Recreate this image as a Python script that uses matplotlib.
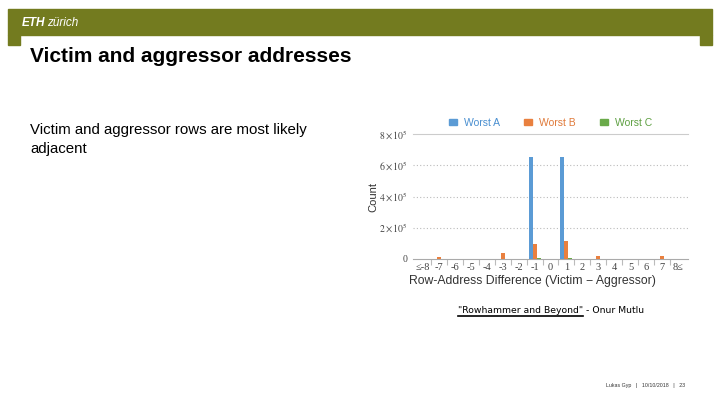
import matplotlib
matplotlib.use('Agg')
import matplotlib.pyplot as plt
from matplotlib.patches import Rectangle, Patch
import numpy as np

# ── Chart data ────────────────────────────────
CATEGORIES = ['≤-8', '-7', '-6', '-5', '-4', '-3', '-2', '-1', '0',
              '1', '2', '3', '4', '5', '6', '7', '8≤']
WORST_A = [0, 0, 0, 0, 0, 0, 0, 650000, 0, 650000, 0, 0, 0, 0, 0, 0, 0]
WORST_B = [0, 12000, 0, 0, 0, 36000, 0, 96000, 0, 116000, 0, 20000, 0, 0, 0, 17000, 0]
WORST_C = [0, 0, 0, 0, 0, 0, 0, 8000, 0, 8000, 0, 0, 0, 0, 0, 0, 0]
SERIES = ['Worst A', 'Worst B', 'Worst C']
Y_TICKS = [0, 200000, 400000, 600000, 800000]
Y_TICK_LABELS = ['0', r'$2\times10^5$', r'$4\times10^5$', r'$6\times10^5$', r'$8\times10^5$']

COLORS = ['#5b9bd5', '#e9803f', '#6aaa4a']
TEXT_COLORS = ['#4a8fd0', '#e07a3a', '#5fa043']
ETH_GREEN = '#737b1f'

plt.rcParams['mathtext.fontset'] = 'stix'
plt.rcParams['font.family'] = ['Liberation Sans', 'DejaVu Sans']

W, H = 720, 405
fig = plt.figure(figsize=(7.2, 4.05), dpi=100)

def px(x, y):
    return x / W, 1 - y / H

# ── Slide frame ────────────────────────────────
fig.patches.append(Rectangle(px(8, 35), 704 / W, 26 / H, transform=fig.transFigure,
                             color=ETH_GREEN, zorder=0))
fig.patches.append(Rectangle(px(8, 45), 12 / W, 10 / H, transform=fig.transFigure,
                             color=ETH_GREEN, zorder=0))
fig.patches.append(Rectangle(px(700, 45), 12 / W, 10 / H, transform=fig.transFigure,
                             color=ETH_GREEN, zorder=0))
eth = fig.text(*px(22, 23), 'ETH', color='white', fontsize=8.5, fontweight='bold',
               fontstyle='italic', va='center', ha='left')
fig.canvas.draw()
eb = eth.get_window_extent()
fig.text((eb.x1 + 1.5) / W, 1 - 23 / H, 'zürich', color='white', fontsize=8.5,
         fontstyle='italic', va='center', ha='left')

fig.text(*px(30, 62), 'Victim and aggressor addresses', fontsize=15, fontweight='bold',
         va='baseline', ha='left', color='black')
fig.text(*px(30, 134), 'Victim and aggressor rows are most likely', fontsize=10.8,
         va='baseline', ha='left', color='black')
fig.text(*px(30, 153), 'adjacent', fontsize=10.8, va='baseline', ha='left', color='black')

# ── Bar chart ────────────────────────────────
ax = fig.add_axes([413 / W, 1 - 259 / H, 275 / W, 125 / H])
x = np.arange(len(CATEGORIES))
width = 0.25
for i, (vals, col) in enumerate(zip([WORST_A, WORST_B, WORST_C], COLORS)):
    ax.bar(x + (i - 1) * width, vals, width, color=col, zorder=3)

ax.set_xlim(-0.6, len(CATEGORIES) - 0.4)
ax.set_ylim(0, 800000)
ax.set_yticks(Y_TICKS)
ax.set_yticklabels(Y_TICK_LABELS, fontsize=7, color='#444444',
                   family=['Liberation Serif', 'DejaVu Serif'])
ax.set_xticks(x)
ax.set_xticklabels(CATEGORIES, fontsize=7.5, color='#444444',
                   family=['Liberation Serif', 'DejaVu Serif'])
ax.set_xticks(x[:-1] + 0.5, minor=True)
ax.tick_params(axis='x', which='major', length=0, pad=3)
ax.tick_params(axis='x', which='minor', length=4, color='#bbbbbb', width=0.8)
ax.tick_params(axis='y', length=0, pad=4)

for yv in Y_TICKS[1:-1]:
    ax.axhline(yv, color='#bbbbbb', lw=0.8, ls=(0, (1, 2)), zorder=1)
for s in ['left', 'right']:
    ax.spines[s].set_visible(False)
ax.spines['top'].set_color('#cccccc')
ax.spines['bottom'].set_color('#aaaaaa')
ax.spines['top'].set_linewidth(0.8)
ax.spines['bottom'].set_linewidth(0.8)

fig.text(*px(373, 197), 'Count', rotation=90, fontsize=8, color='#333333',
         ha='center', va='center')
fig.text(*px(532, 281), 'Row-Address Difference (Victim − Aggressor)', fontsize=8.8,
         color='#333333', ha='center', va='center')

handles = [Patch(color=c) for c in COLORS]
leg = ax.legend(handles, SERIES, loc='lower center', bbox_to_anchor=(0.5, 1.0),
                ncol=3, frameon=False, fontsize=7.5, handlelength=0.8, handleheight=0.6,
                columnspacing=2.3, handletextpad=0.65, borderaxespad=0.2)
for t, c in zip(leg.get_texts(), TEXT_COLORS):
    t.set_color(c)

# ── Citation and footer ────────────────────────────────
cite = fig.text(*px(458, 313), '"Rowhammer and Beyond"', fontsize=6.7,
                family='DejaVu Sans', ha='left', va='baseline', color='black')
fig.canvas.draw()
bb = cite.get_window_extent()
fig.text((bb.x1 + 3) / W, 1 - 313 / H, '- Onur Mutlu', fontsize=6.7,
         family='DejaVu Sans', ha='left', va='baseline', color='black')
fig.add_artist(plt.Line2D([bb.x0 / W, bb.x1 / W], [1 - 316 / H, 1 - 316 / H],
                          transform=fig.transFigure, color='black', lw=1.2))

fig.text(*px(606, 385), 'Lukas Gyp   |   10/10/2018   |   23', fontsize=3.8,
         ha='left', va='center', color='#333333')

fig.savefig('out.png', dpi=100)
